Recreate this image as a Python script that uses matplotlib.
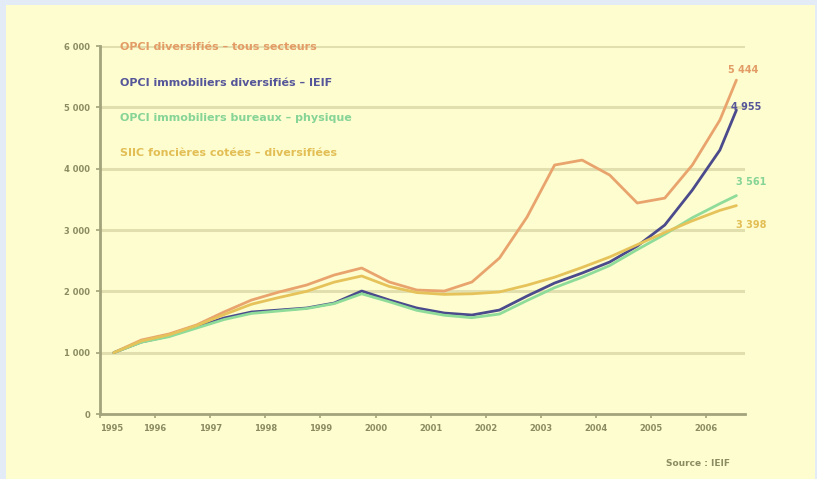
import matplotlib
matplotlib.use("Agg")
import matplotlib.pyplot as plt
from matplotlib.patches import Rectangle

# Half-yearly observations (fractional years)
periods = [1995.25, 1995.75, 1996.25, 1996.75, 1997.25, 1997.75, 1998.25, 1998.75,
           1999.25, 1999.75, 2000.25, 2000.75, 2001.25, 2001.75, 2002.25, 2002.75,
           2003.25, 2003.75, 2004.25, 2004.75, 2005.25, 2005.75, 2006.25, 2006.55]

opci_diversifie = [1000, 1206, 1304, 1451, 1663, 1858, 1989, 2103, 2266, 2380, 2152, 2021,
                   2005, 2152, 2543, 3211, 4059, 4140, 3896, 3440, 3520, 4059, 4792, 5444]
opci_immobilier = [1000, 1174, 1271, 1418, 1565, 1663, 1695, 1728, 1809, 2005, 1858, 1728,
                   1646, 1614, 1695, 1923, 2135, 2298, 2478, 2738, 3081, 3651, 4303, 4955]
opci_physique = [1000, 1170, 1260, 1400, 1540, 1640, 1680, 1720, 1800, 1960, 1830, 1690,
                 1610, 1570, 1630, 1850, 2060, 2230, 2420, 2680, 2930, 3200, 3430, 3561]
siic_cotees = [1000, 1190, 1290, 1440, 1620, 1790, 1900, 2000, 2150, 2250, 2080, 1980,
               1950, 1960, 1990, 2100, 2230, 2390, 2560, 2760, 2960, 3150, 3320, 3398]

series_names = ["OPCI diversifiés – tous secteurs", "OPCI immobiliers diversifiés – IEIF",
                "OPCI immobiliers bureaux – physique", "SIIC foncières cotées – diversifiées"]
series_values = [opci_diversifie, opci_immobilier, opci_physique, siic_cotees]
line_colors = ["#e9a46e", "#4a4a8c", "#8fdc9a", "#e6c35a"]
text_colors = ["#e39c66", "#55559a", "#86d496", "#e2be55"]

year_ticks = list(range(1995, 2007))
value_ticks = [0, 1000, 2000, 3000, 4000, 5000, 6000]


def fr(v):
    return f"{v:,}".replace(",", " ")


fig = plt.figure(figsize=(8.17, 4.79), dpi=100)
fig.patch.set_facecolor("#e3ebf7")
fig.patches.append(Rectangle((6 / 817, 0.0), 1 - 8 / 817, 1 - 5 / 479,
                             transform=fig.transFigure, facecolor="#fdfdcf",
                             edgecolor="none", zorder=-10))

ax = fig.add_axes([100 / 817, 1 - 414 / 479, 645 / 817, (414 - 46) / 479])
ax.set_facecolor("none")
ax.set_xlim(1995, 1995 + 645 / 55.1)
ax.set_ylim(0, 6000)

grid_c = "#e2dfae"
for v in value_ticks[1:]:
    ax.axhline(v, color=grid_c, lw=2.2, zorder=1)

for vals, col in zip(series_values, line_colors):
    ax.plot(periods, vals, color=col, lw=2.0, zorder=3, solid_capstyle="round")

axis_c = "#a3a37c"
for s in ["top", "right"]:
    ax.spines[s].set_visible(False)
ax.spines["left"].set_color(axis_c)
ax.spines["bottom"].set_color(axis_c)
ax.spines["left"].set_linewidth(2)
ax.spines["bottom"].set_linewidth(2)

lab_c = "#8c8c62"
ax.set_yticks(value_ticks)
ax.set_yticklabels([fr(v) for v in value_ticks], fontsize=6, fontweight="bold", color=lab_c)
ax.set_xticks(year_ticks)
xl = ax.set_xticklabels([str(y) for y in year_ticks], fontsize=6, fontweight="bold", color=lab_c)
xl[0].set_horizontalalignment("left")
ax.tick_params(axis="both", colors=axis_c, labelcolor=lab_c, length=3, width=1.2, pad=4)

# Legend as coloured text
for i, (name, col) in enumerate(zip(series_names, text_colors)):
    fig.text(120 / 817, 1 - (47 + i * 35.5) / 479, name, color=col, fontsize=8,
             fontweight="bold", va="center", ha="left")

# End-of-series values, nudged so they do not collide
label_offsets = [(-6, 7), (-4, 2), (0, 10), (0, -14)]
for vals, col, (dx, dy) in zip(series_values, text_colors, label_offsets):
    ax.annotate(fr(vals[-1]), xy=(periods[-1], vals[-1]), xytext=(dx, dy),
                textcoords="offset points", color=col, fontsize=7, fontweight="bold",
                ha="left", va="center")

fig.text(730 / 817, 1 - 463 / 479, "Source : IEIF", color=lab_c, fontsize=6.5,
         fontweight="bold", ha="right", va="center")

fig.savefig("out.png", dpi=100, facecolor=fig.get_facecolor())
